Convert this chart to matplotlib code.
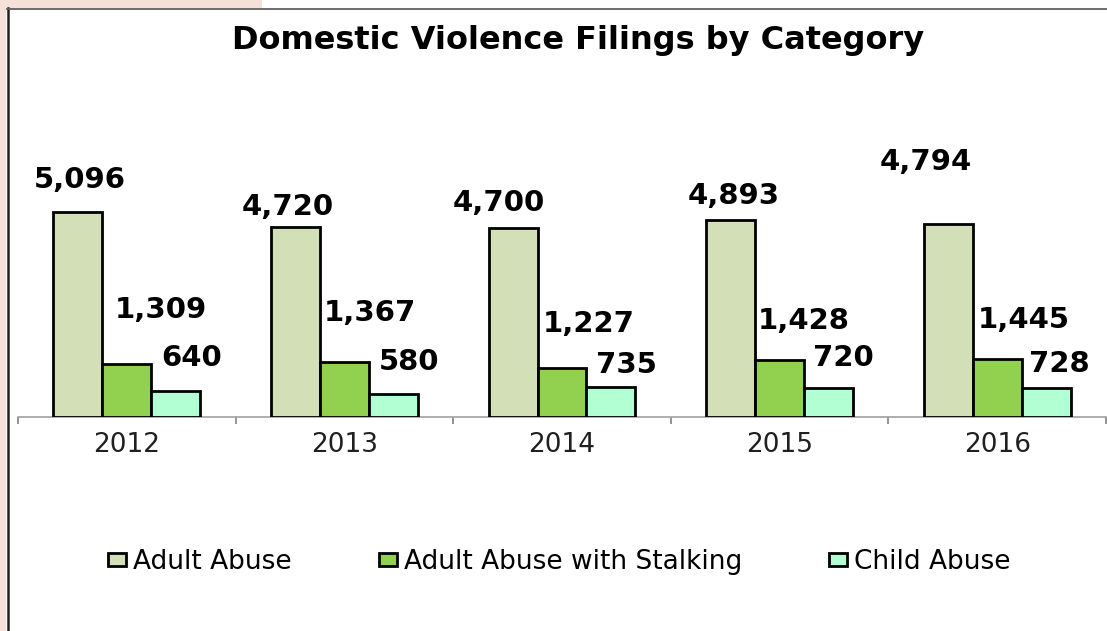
import matplotlib
matplotlib.use("Agg")
import matplotlib.pyplot as plt
from matplotlib.patches import Rectangle
from matplotlib.lines import Line2D
import numpy as np

years = ["2012", "2013", "2014", "2015", "2016"]
series_names = ["Adult Abuse", "Adult Abuse with Stalking", "Child Abuse"]
adult_abuse = [5096, 4720, 4700, 4893, 4794]
adult_stalking = [1309, 1367, 1227, 1428, 1445]
child_abuse = [640, 580, 735, 720, 728]

colors = ["#D3E0B7", "#92D050", "#B3FFD4"]
# label offsets (pixels) from bar top-centre, as placed in the original
label_dx = [[2, -8, -14, 3, -22], [34, 26, 27, 24, 27], [16, 16, 15, 15, 13]]
label_dy = [[32, 20, 25, 24, 62], [54, 49, 44, 39, 39], [33, 32, 22, 30, 24]]

W, H = 1107, 631
fig = plt.figure(figsize=(W / 100, H / 100), dpi=100)
fig.patch.set_facecolor("white")

# background decorations
pink = "#F5E1D7"
fig.add_artist(Rectangle((0, 1 - 7.5 / H), 262 / W, 7.5 / H, transform=fig.transFigure,
                         facecolor=pink, edgecolor="none"))
fig.add_artist(Rectangle((0, 0), 6 / W, 1, transform=fig.transFigure,
                         facecolor=pink, edgecolor="none"))
fig.add_artist(Line2D([7.5 / W, 7.5 / W], [0, 1 - 8 / H], transform=fig.transFigure,
                      color="#202020", lw=1.8))
fig.add_artist(Line2D([7 / W, 1], [1 - 8.5 / H, 1 - 8.5 / H], transform=fig.transFigure,
                      color="#606060", lw=1.3))

ax = fig.add_axes([18 / W, (H - 417) / H, (1106 - 18) / W, 322 / H])
ax.set_facecolor("none")
ax.set_xlim(-0.5, len(years) - 0.5)
ax.set_ylim(0, 8000)

x = np.arange(len(years))
bw = 0.225
all_series = [adult_abuse, adult_stalking, child_abuse]
for i, (vals, name, col) in enumerate(zip(all_series, series_names, colors)):
    offs = (i - 1) * bw
    ax.bar(x + offs, vals, width=bw, color=col, edgecolor="black", linewidth=2.0,
           label=name, zorder=3)
    for j, v in enumerate(vals):
        ax.annotate(f"{v:,}", xy=(x[j] + offs, v), xytext=(label_dx[i][j], label_dy[i][j]),
                    textcoords="offset pixels", ha="center", va="center",
                    fontsize=21, fontweight="bold", color="black", family="DejaVu Sans")

for s in ["left", "right", "top"]:
    ax.spines[s].set_visible(False)
ax.spines["bottom"].set_color("#A0A0A0")
ax.spines["bottom"].set_linewidth(1.2)
ax.set_yticks([])
ax.set_xticks(np.arange(-0.5, len(years), 1.0))
ax.set_xticklabels([])
ax.tick_params(axis="x", which="major", length=5, width=1.2, color="#808080", direction="out")
ax.set_xticks(x, minor=True)
ax.set_xticklabels(years, minor=True, fontsize=19, color="#202020", family="DejaVu Sans")
ax.tick_params(axis="x", which="minor", length=0, pad=11)

fig.text(578 / W, 1 - 41 / H, "Domestic Violence Filings by Category", ha="center", va="center",
         fontsize=23, fontweight="bold", family="DejaVu Sans")

fs = 19
fpx = fs * 100 / 72
fig.legend(loc="center left", bbox_to_anchor=(108 / W, 1 - 562 / H), ncol=3, frameon=False,
           fontsize=fs, handlelength=18 / fpx, handleheight=11 / fpx, handletextpad=7 / fpx,
           columnspacing=87 / fpx, borderpad=0, borderaxespad=0)

fig.savefig("out.png", dpi=100)
